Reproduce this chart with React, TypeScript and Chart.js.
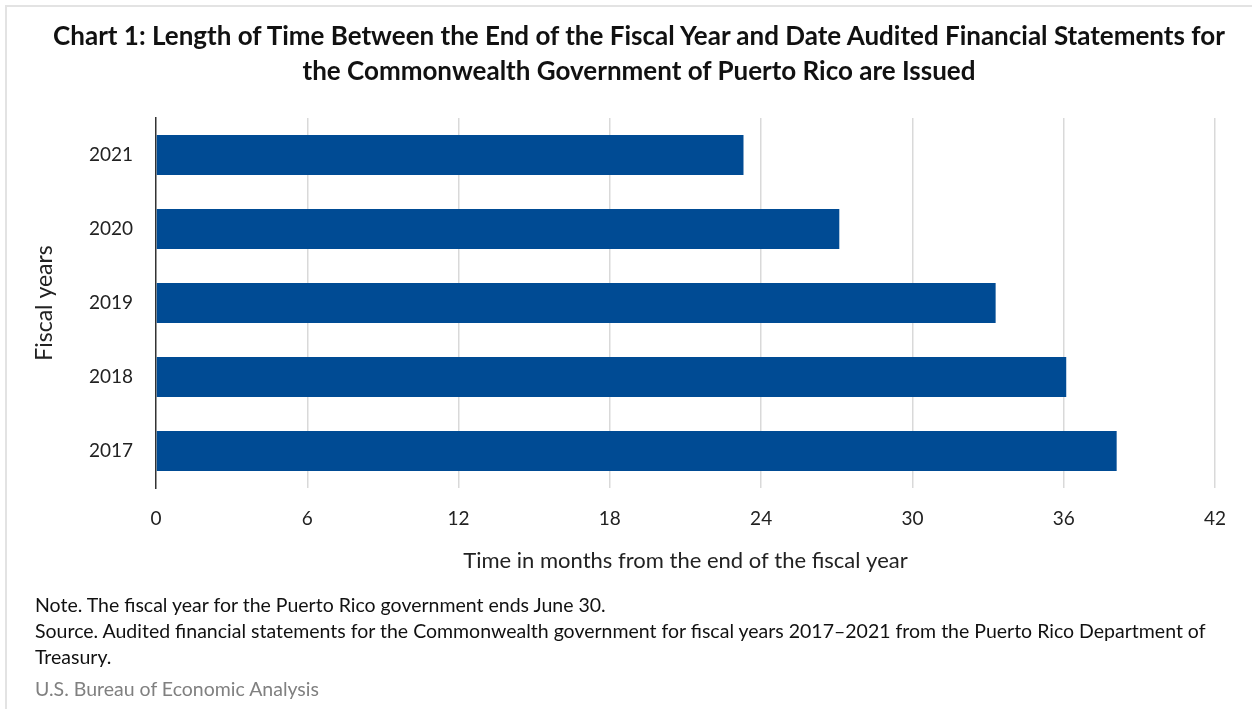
import React, { useEffect, useRef } from "react";
import { Chart, registerables } from "chart.js";

Chart.register(...registerables);

const categories: string[] = ["2021", "2020", "2019", "2018", "2017"];
const monthsToIssue: number[] = [23.3, 27.1, 33.3, 36.1, 38.1];
const xTickValues: number[] = [0, 6, 12, 18, 24, 30, 36, 42];
const titleLines: string[] = [
  "Chart 1: Length of Time Between the End of the Fiscal Year and Date Audited Financial Statements for",
  "the Commonwealth Government of Puerto Rico are Issued",
];
const noteLines: string[] = [
  "Note. The fiscal year for the Puerto Rico government ends June 30.",
  "Source. Audited financial statements for the Commonwealth government for fiscal years 2017\u20132021 from the Puerto Rico Department of",
  "Treasury.",
];
const creditLine = "U.S. Bureau of Economic Analysis";
const xAxisTitle = "Time in months from the end of the fiscal year";
const yAxisTitle = "Fiscal years";

const FONT = "Lato, 'Open Sans', sans-serif";

export default function App() {
  const canvasRef = useRef<HTMLCanvasElement | null>(null);

  useEffect(() => {
    if (!canvasRef.current) return;
    const chart = new Chart(canvasRef.current, {
      type: "bar",
      data: {
        labels: categories,
        datasets: [
          {
            data: monthsToIssue,
            backgroundColor: "#004B94",
            borderWidth: 0,
            barPercentage: 0.54,
            categoryPercentage: 1,
          },
        ],
      },
      options: {
        indexAxis: "y",
        responsive: false,
        animation: false,
        layout: { padding: { left: 0, right: 37, top: 118, bottom: 121 } },
        plugins: {
          legend: { display: false },
          tooltip: { enabled: false },
          title: { display: false },
        },
        scales: {
          x: {
            min: 0,
            max: 42,
            afterBuildTicks: (scale: any) => {
              scale.ticks = xTickValues.map((v) => ({ value: v }));
            },
            afterFit: (scale: any) => {
              scale.height = 100;
            },
            grid: {
              color: (ctx: any) => (ctx.tick && ctx.tick.value === 0 ? "rgba(0,0,0,0)" : "#d9d9d9"),
              lineWidth: 1.5,
              drawTicks: false,
            },
            border: { display: false },
            ticks: {
              color: "#222",
              font: { family: FONT, size: 19 },
              padding: 19,
              maxRotation: 0,
            },
            title: {
              display: true,
              text: xAxisTitle,
              color: "#222",
              font: { family: FONT, size: 22 },
              padding: { top: 0, bottom: 14 },
            },
          },
          y: {
            afterFit: (scale: any) => {
              scale.width = 156;
            },
            grid: { display: false, drawTicks: false },
            border: { display: true, color: "#333", width: 1.5 },
            ticks: {
              color: "#222",
              font: { family: FONT, size: 19 },
              padding: 23,
            },
            title: {
              display: true,
              text: yAxisTitle,
              color: "#222",
              font: { family: FONT, size: 23 },
              padding: { top: 31, bottom: 0 },
            },
          },
        },
      },
    });
    return () => chart.destroy();
  }, []);

  return (
    <div style={{ position: "absolute", left: 0, top: 0, width: 1252, height: 709, background: "#fff", overflow: "hidden" }}>
      <div
        style={{
          position: "absolute",
          left: 5,
          top: 5,
          width: 1260,
          height: 720,
          borderTop: "2px solid #e3e3e3",
          borderLeft: "2px solid #e3e3e3",
        }}
      />
      <canvas ref={canvasRef} width={1252} height={709} style={{ position: "absolute", left: 0, top: 0 }} />
      <div
        style={{
          position: "absolute",
          left: 15,
          top: 18,
          width: 1248,
          textAlign: "center",
          fontFamily: FONT,
          fontWeight: 700,
          fontSize: 26,
          lineHeight: "35px",
          color: "#111",
          whiteSpace: "nowrap",
        }}
      >
        {titleLines.map((t, i) => (
          <div key={i}>{t}</div>
        ))}
      </div>
      <div
        style={{
          position: "absolute",
          left: 35,
          top: 592,
          fontFamily: FONT,
          fontSize: 19.5,
          lineHeight: "26px",
          color: "#111",
          whiteSpace: "nowrap",
        }}
      >
        {noteLines.map((t, i) => (
          <div key={i}>{t}</div>
        ))}
        <div style={{ color: "#808080", marginTop: 6 }}>{creditLine}</div>
      </div>
    </div>
  );
}
